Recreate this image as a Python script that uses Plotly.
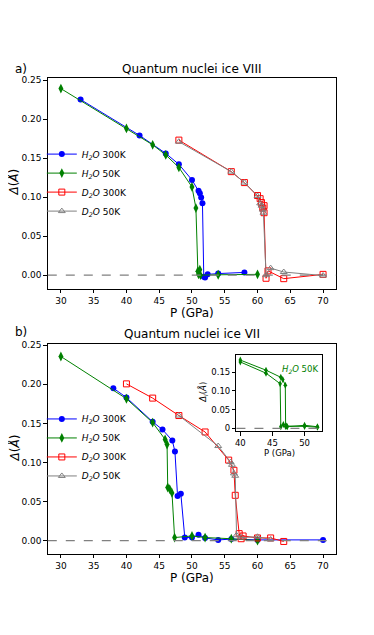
import plotly.graph_objects as go

# ---------------- data ----------------
# Panel a) Quantum nuclei ice VIII
a_h2o300_P = [33, 42, 46, 48, 50, 51, 51.2, 51.4, 51.6, 51.8, 52.0, 52.4, 54, 58]
a_h2o300_D = [0.225, 0.179, 0.156, 0.142, 0.122, 0.108, 0.105, 0.0995, 0.092, -0.002, -0.003, 0.001, 0.002, 0.0035]
a_h2o50_P = [30, 40, 44, 46, 48, 50, 50.6, 50.9, 51.0, 51.2, 51.3, 54, 60]
a_h2o50_D = [0.239, 0.188, 0.167, 0.154, 0.138, 0.113, 0.086, 0.005, 0.001, 0.007, 0.0, 0.0005, 0.001]
a_d2o300_P = [48, 56, 58, 60, 60.4, 60.6, 60.8, 61.0, 61.0, 61.3, 61.6, 64, 70]
a_d2o300_D = [0.173, 0.1326, 0.1186, 0.102, 0.098, 0.093, 0.086, 0.089, 0.080, -0.004, 0.0055, -0.0045, 0.001]
a_d2o50_P = [48, 56, 58, 60, 60.4, 60.6, 60.8, 60.9, 61.3, 62, 64, 70]
a_d2o50_D = [0.171, 0.1326, 0.1186, 0.1015, 0.092, 0.089, 0.084, 0.080, 0.0, 0.009, 0.004, -0.0005]

# Panel b) Quantum nuclei ice VII
b_h2o300_P = [38, 40, 44, 45.5, 47, 47.4, 47.8, 48.3, 48.9, 50, 51, 52, 54, 56, 60, 70]
b_h2o300_D = [0.195, 0.183, 0.152, 0.142, 0.128, 0.114, 0.057, 0.060, 0.004, 0.004, 0.0075, 0.0035, 0.001, 0.002, 0.001, 0.001]
b_h2o50_P = [30, 40, 44, 45.9, 46.2, 46.3, 46.6, 46.95, 47.35, 50, 52, 56, 60]
b_h2o50_D = [0.2355, 0.1815, 0.151, 0.1295, 0.123, 0.068, 0.066, 0.061, 0.004, 0.006, 0.004, 0.0025, 0.0]
b_d2o300_P = [40, 44, 48, 52, 55.6, 56.4, 56.6, 57.2, 57.5, 57.8, 60, 62, 64]
b_d2o300_D = [0.2005, 0.1823, 0.160, 0.139, 0.103, 0.090, 0.058, 0.009, 0.0025, 0.006, 0.0035, 0.0035, -0.001]
b_d2o50_P = [48, 54, 55.9, 56.1, 56.4, 56.6, 56.8, 57.5, 60, 62]
b_d2o50_D = [0.160, 0.121, 0.1005, 0.097, 0.086, 0.083, 0.007, 0.004, 0.005, 0.0015]

# Inset: H2O 50K hysteresis
ins_up_P = [40, 44, 46.3, 46.6, 47.0, 47.05, 47.3, 50, 52]
ins_up_D = [0.182, 0.155, 0.136, 0.130, 0.115, 0.005, 0.004, 0.008, 0.004]
ins_dn_P = [40, 44, 46.2, 46.3, 46.7, 47.2, 50, 52]
ins_dn_D = [0.177, 0.147, 0.119, 0.004, 0.010, 0.006, 0.005, 0.003]

main_xticks = [30, 35, 40, 45, 50, 55, 60, 65, 70]
main_yticks = [0.0, 0.05, 0.10, 0.15, 0.20, 0.25]
ins_xticks = [40, 45, 50]
ins_yticks = [0.0, 0.05, 0.10, 0.15]
ins_yticklabels = ["0", "0.05", "0.10", "0.15"]

labels = ["<i>H<sub>2</sub>O</i> 300K", "<i>H<sub>2</sub>O</i> 50K",
          "<i>D<sub>2</sub>O</i> 300K", "<i>D<sub>2</sub>O</i> 50K"]

FONT = "DejaVu Sans"
OFF = 8                      # page body margin
W, H = 374 - 2 * OFF, 635 - 2 * OFF

def PX(x):                   # screen pixel -> paper x
    return (x - OFF) / W

def PY(y):                   # screen pixel -> paper y
    return (H - (y - OFF)) / H

styles = [
    dict(color="#0000ff", marker=dict(symbol="circle", size=6, color="#0000ff")),
    dict(color="#008000", marker=dict(symbol="diamond-tall", size=7, color="#008000")),
    dict(color="#ff0000", marker=dict(symbol="square-open", size=6, color="#ff0000",
                                      line=dict(width=1, color="#ff0000"))),
    dict(color="#808080", marker=dict(symbol="triangle-up-open", size=6, color="#808080",
                                      line=dict(width=1, color="#808080"))),
]

fig = go.Figure()

def add_set(series, xa, ya, legend):
    for (P, D), lab, st in zip(series, labels, styles):
        fig.add_trace(go.Scatter(
            x=P, y=D, mode="lines+markers", name=lab,
            line=dict(color=st["color"], width=1),
            marker=st["marker"], xaxis=xa, yaxis=ya,
            legend=legend, showlegend=True))

add_set([(a_h2o300_P, a_h2o300_D), (a_h2o50_P, a_h2o50_D),
         (a_d2o300_P, a_d2o300_D), (a_d2o50_P, a_d2o50_D)], "x", "y", "legend")
add_set([(b_h2o300_P, b_h2o300_D), (b_h2o50_P, b_h2o50_D),
         (b_d2o300_P, b_d2o300_D), (b_d2o50_P, b_d2o50_D)], "x2", "y2", "legend2")

for P, D in [(ins_up_P, ins_up_D), (ins_dn_P, ins_dn_D)]:
    fig.add_trace(go.Scatter(
        x=P, y=D, mode="lines+markers", showlegend=False,
        line=dict(color="#008000", width=1),
        marker=dict(symbol="diamond-tall", size=5, color="#008000"),
        xaxis="x3", yaxis="y3"))

ax_common = dict(showline=True, mirror=True, linecolor="black", linewidth=1,
                 ticks="outside", ticklen=3.5, tickwidth=0.8, tickcolor="black",
                 showgrid=False, zeroline=False,
                 tickfont=dict(family=FONT, size=9, color="black"))
ax_inset = {**ax_common, "tickfont": dict(family=FONT, size=8.5, color="black")}

xdom = [PX(46), PX(336)]
fig.update_layout(
    width=W, height=H,
    margin=dict(l=0, r=0, t=0, b=0),
    paper_bgcolor="white", plot_bgcolor="white",
    font=dict(family=FONT, color="black"),
    xaxis=dict(domain=xdom, range=[28, 72], tickvals=main_xticks, anchor="y", **ax_common),
    yaxis=dict(domain=[PY(288), PY(76)], range=[-0.0174, 0.252], tickvals=main_yticks,
               tickformat=".2f", anchor="x", **ax_common),
    xaxis2=dict(domain=xdom, range=[28, 72], tickvals=main_xticks, anchor="y2", **ax_common),
    yaxis2=dict(domain=[PY(555), PY(343.3)], range=[-0.0165, 0.252], tickvals=main_yticks,
                tickformat=".2f", anchor="x2", **ax_common),
    xaxis3=dict(domain=[PX(235.7), PX(321.7)], range=[39.4, 52.7], tickvals=ins_xticks,
                anchor="y3", **ax_inset),
    yaxis3=dict(domain=[PY(431.7), PY(355)], range=[-0.008, 0.195], tickvals=ins_yticks,
                ticktext=ins_yticklabels, anchor="x3", **ax_inset),
    legend=dict(x=PX(40), xanchor="left", y=PY(181), yanchor="middle",
                bgcolor="rgba(0,0,0,0)", font=dict(family=FONT, size=9, color="black"),
                tracegroupgap=0),
    legend2=dict(x=PX(40), xanchor="left", y=PY(448), yanchor="middle",
                 bgcolor="rgba(0,0,0,0)", font=dict(family=FONT, size=9, color="black"),
                 tracegroupgap=0),
)

# dashed zero lines
for xr, yr in [("x domain", "y"), ("x2 domain", "y2"), ("x3 domain", "y3")]:
    fig.add_shape(type="line", xref=xr, yref=yr, x0=0, x1=1, y0=0, y1=0,
                  line=dict(color="#808080", width=1.2, dash="dash"))

def ann(text, x, y, size, xanchor="center", color="black", **kw):
    fig.add_annotation(text=text, x=PX(x), y=PY(y), xref="paper", yref="paper",
                       xanchor=xanchor, yanchor="middle", showarrow=False,
                       font=dict(family=FONT, size=size, color=color), **kw)

ann("Quantum nuclei ice VIII", 191, 66, 12)
ann("Quantum nuclei ice VII", 191, 334, 12)
ann("a)", 19, 66, 12)
ann("b)", 19, 332, 12)
ann("P (GPa)", 191, 312.5, 12)
ann("P (GPa)", 191, 579.5, 12)
ann("<i>Δ</i>(<i>Å</i>)", 12, 180, 12, textangle=-90)
ann("<i>Δ</i>(<i>Å</i>)", 12, 448, 12, textangle=-90)
ann("P (GPa)", 278.7, 453.5, 8.5)
ann("<i>Δ<sub>I</sub></i>(<i>Å</i>)", 202, 392, 8.5, textangle=-90)
ann("<i>H<sub>2</sub>O</i> 50K", 320, 369, 8.5, xanchor="right", color="#008000")

fig.write_html("out.html")
